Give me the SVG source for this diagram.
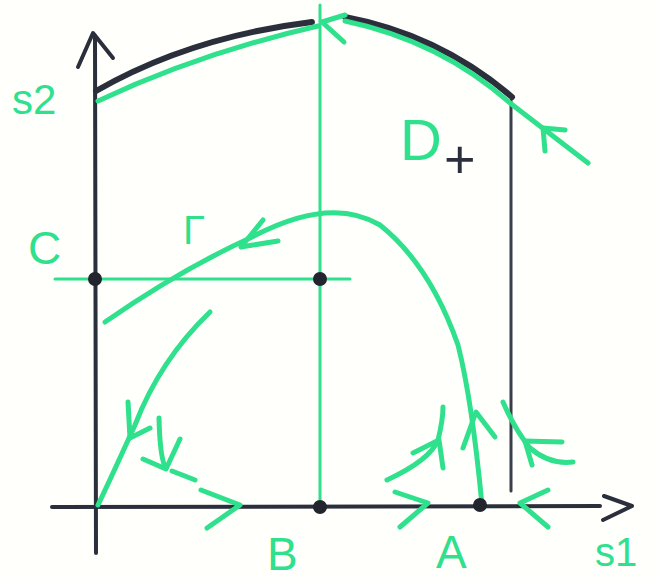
<svg xmlns="http://www.w3.org/2000/svg" width="657" height="581" viewBox="0 0 657 581">
<style>
.g{fill:none;stroke:#2fe08c;stroke-width:5;stroke-linecap:round;stroke-linejoin:round}
.gt{fill:none;stroke:#2fe08c;stroke-width:3;stroke-linecap:round}
.k{fill:none;stroke:#2b2f3c;stroke-width:4;stroke-linecap:round;stroke-linejoin:round}
.kc{fill:none;stroke:#2b2f3c;stroke-width:6;stroke-linecap:round}
.kt{fill:none;stroke:#3a3e4a;stroke-width:3;stroke-linecap:round}
.dot{fill:#22252e}
.lbl{font-family:"Liberation Sans",Arial,sans-serif;fill:#2fe08c}
</style>
<rect width="657" height="581" fill="#fffffb"/>
<g id="axes">
<line class="k" x1="95" y1="36" x2="96" y2="553"/>
<polyline class="k" points="78,67 93,33 113,58"/>
<line class="k" x1="52" y1="507" x2="600" y2="506"/>
<polyline class="k" points="604,496 632,506 603,520"/>
<line class="kt" x1="511" y1="100" x2="511" y2="491"/>
<path class="kc" d="M96,91 Q190,37 312,22"/>
<path class="kc" d="M345,17 Q440,35 512,97"/>
</g>
<g id="isoclines">
<line class="gt" x1="320" y1="5" x2="320" y2="505"/>
<line class="gt" x1="55" y1="279" x2="350" y2="279"/>
</g>
<g id="connectors">
<path class="g" d="M98,101 Q200,53 318,26"/>
<path class="g" d="M345,21 Q440,41 510,103 L588,163"/>
<polyline class="g" points="345,15 322,22 344,42"/>
<polyline class="g" points="545,151 543,128 565,130"/>
<path class="g" d="M105,322 Q180,270 250,238 Q330,195 380,225 Q430,265 458,345 Q472,400 482,505"/>
<polyline class="g" points="263,220 241,247 278,241"/>
<polyline class="g" points="463,448 476,412 495,437"/>
<path class="g" d="M210,312 Q160,360 135,425 Q110,480 98,505"/>
<polyline class="g" points="128,402 130,438 150,428"/>
<path class="g" d="M159,418 Q160,460 166,468"/>
<polyline class="g" points="143,459 166,469 180,439"/>
<path class="g" d="M172,471 Q185,476 195,480"/>
<polyline class="g" points="201,490 240,505 207,528"/>
<polyline class="g" points="395,492 428,503 400,527"/>
<polyline class="g" points="548,490 520,503 548,527"/>
<path class="g" d="M387,480 Q430,460 438,440 Q443,420 443,407"/>
<polyline class="g" points="413,453 439,440 443,468"/>
<path class="g" d="M503,402 Q515,430 530,448 Q550,465 573,462"/>
<polyline class="g" points="562,442 525,441 532,465"/>
</g>
<g id="points">
<circle class="dot" cx="95" cy="279" r="7"/>
<circle class="dot" cx="320" cy="279" r="7"/>
<circle class="dot" cx="320" cy="507" r="7"/>
<circle class="dot" cx="480" cy="505" r="7"/>
</g>
<g id="labels">
<text class="lbl" x="12" y="114" font-size="42">s2</text>
<text class="lbl" x="28" y="264" font-size="46">C</text>
<text class="lbl" x="183" y="244" font-size="40">Γ</text>
<text class="lbl" x="400" y="160" font-size="58">D</text>
<text x="444" y="178" font-size="54" font-family="Liberation Sans,Arial,sans-serif" fill="#2b2f3c">+</text>
<text class="lbl" x="267" y="570" font-size="46">B</text>
<text class="lbl" x="436" y="568" font-size="46">A</text>
<text class="lbl" x="595" y="566" font-size="40">s1</text>
</g>
</svg>
